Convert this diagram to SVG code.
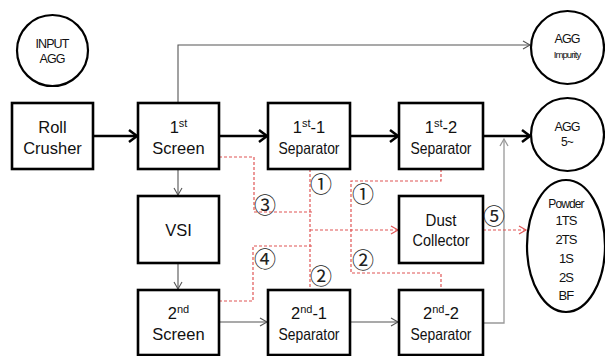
<svg xmlns="http://www.w3.org/2000/svg" width="605" height="356" viewBox="0 0 605 356">
<defs>
<style>
.box{fill:#fff;stroke:#000;stroke-width:2.6}
.circ{fill:#fff;stroke:#000;stroke-width:2.2}
.t{font-family:"Liberation Sans",Arial,sans-serif;font-size:16.5px;fill:#111;text-anchor:middle}
.sup{font-size:11px}
.s{font-family:"Liberation Sans",Arial,sans-serif;fill:#111;text-anchor:middle;letter-spacing:-0.9px}
.num{font-family:"Noto Sans CJK KR",sans-serif;font-size:22px;fill:#222;text-anchor:middle}
.thick{fill:none;stroke:#000;stroke-width:2.5;marker-end:url(#ak)}
.thin{fill:none;stroke:#555;stroke-width:1.1;marker-end:url(#ag)}
.thin2{fill:none;stroke:#999;stroke-width:1.3;marker-end:url(#ag2)}
.red{fill:none;stroke:#e05555;stroke-width:1.2;stroke-dasharray:3 2}
.reda{fill:none;stroke:#e05555;stroke-width:1.2;stroke-dasharray:3 2;marker-end:url(#ar)}
</style>
<marker id="ak" markerUnits="userSpaceOnUse" markerWidth="12" markerHeight="14" refX="9" refY="6" orient="auto" overflow="visible">
<path d="M1,0 L9,6 L1,12" fill="none" stroke="#000" stroke-width="2.5"/>
</marker>
<marker id="ag" markerUnits="userSpaceOnUse" markerWidth="10" markerHeight="10" refX="7" refY="4" orient="auto" overflow="visible">
<path d="M0,0 L7,4 L0,8" fill="none" stroke="#555" stroke-width="1.1"/>
</marker>
<marker id="ag2" markerUnits="userSpaceOnUse" markerWidth="10" markerHeight="10" refX="7" refY="4" orient="auto" overflow="visible">
<path d="M0,0 L7,4 L0,8" fill="none" stroke="#999" stroke-width="1.3"/>
</marker>
<marker id="ar" markerUnits="userSpaceOnUse" markerWidth="10" markerHeight="10" refX="7" refY="4" orient="auto" overflow="visible">
<path d="M0,0 L7,4 L0,8" fill="none" stroke="#e05555" stroke-width="1.2"/>
</marker>
</defs>
<rect width="605" height="356" fill="#fff"/>

<g id="connectors">
<path class="thick" d="M93,136 H137"/>
<path class="thick" d="M219,136 H267"/>
<path class="thick" d="M350,136 H398"/>
<path class="thick" d="M483,136 H530"/>
<path class="thin" d="M178,103 V45 H530"/>
<path class="thin" d="M178,169 V195"/>
<path class="thin" d="M178,263 V289"/>
<path class="thin" d="M219,322 H267"/>
<path class="thin" d="M350,322 H398"/>
<path class="thin2" d="M483,323 H504 V139"/>
<path class="red" d="M219,157 H254 V212 H312"/>
<path class="red" d="M310,169 V290"/>
<path class="reda" d="M310,230 H398"/>
<path class="red" d="M219,301 H253 V246 H312"/>
<path class="red" d="M441,169 V181 H351 V273 H441 V290"/>
<path class="reda" d="M483,230 H526"/>
</g>

<g id="labels">
<text class="num" x="321" y="191.5">①</text>
<text class="num" x="363" y="201.5">①</text>
<text class="num" x="265" y="212.5">③</text>
<text class="num" x="265" y="266.5">④</text>
<text class="num" x="321" y="283.5">②</text>
<text class="num" x="363" y="267.5">②</text>
<text class="num" x="494" y="223.5">⑤</text>
</g>

<g id="input-agg">
<circle class="circ" cx="52.5" cy="50.5" r="35.5"/>
<text class="s" x="52" y="48" font-size="12.5">INPUT</text>
<text class="s" x="52" y="63" font-size="12.5">AGG</text>
</g>

<g id="roll-crusher">
<rect class="box" x="12" y="103" width="81" height="66"/>
<text class="t" x="52.5" y="133">Roll</text>
<text class="t" x="52.5" y="154">Crusher</text>
</g>

<g id="screen1">
<rect class="box" x="138" y="103" width="81" height="66"/>
<text class="t" x="178.5" y="133">1<tspan class="sup" dy="-6">st</tspan></text>
<text class="t" x="178.5" y="154">Screen</text>
</g>

<g id="sep1-1">
<rect class="box" x="268" y="103" width="82" height="66"/>
<text class="t" x="309" y="133">1<tspan class="sup" dy="-6">st</tspan><tspan dy="6">-1</tspan></text>
<text class="t" x="309" y="154" textLength="61" lengthAdjust="spacingAndGlyphs">Separator</text>
</g>

<g id="sep1-2">
<rect class="box" x="399" y="103" width="84" height="66"/>
<text class="t" x="441" y="133">1<tspan class="sup" dy="-6">st</tspan><tspan dy="6">-2</tspan></text>
<text class="t" x="441" y="154" textLength="61" lengthAdjust="spacingAndGlyphs">Separator</text>
</g>

<g id="agg-impurity">
<circle class="circ" cx="567.5" cy="47.5" r="36.5"/>
<text class="s" x="567" y="43" font-size="12.5">AGG</text>
<text class="s" x="567" y="58" font-size="9.5" letter-spacing="-0.5">Impurity</text>
</g>

<g id="agg-5">
<circle class="circ" cx="567.5" cy="134.5" r="36.5"/>
<text class="s" x="567" y="131" font-size="12.5">AGG</text>
<text class="s" x="567" y="146" font-size="12">5~</text>
</g>

<g id="vsi">
<rect class="box" x="138" y="196" width="81" height="67"/>
<text class="t" x="178.5" y="236">VSI</text>
</g>

<g id="dust-collector">
<rect class="box" x="399" y="196" width="84" height="67"/>
<text class="t" x="441" y="226" textLength="31" lengthAdjust="spacingAndGlyphs">Dust</text>
<text class="t" x="441" y="246" textLength="57" lengthAdjust="spacingAndGlyphs">Collector</text>
</g>

<g id="powder">
<ellipse class="circ" cx="566" cy="246" rx="39" ry="66" stroke-width="2.5"/>
<text class="s" x="566" y="208" font-size="12">Powder</text>
<text class="s" x="566" y="225" font-size="13">1TS</text>
<text class="s" x="566" y="244" font-size="13">2TS</text>
<text class="s" x="566" y="263" font-size="13">1S</text>
<text class="s" x="566" y="282" font-size="13">2S</text>
<text class="s" x="566" y="300" font-size="13">BF</text>
</g>

<g id="screen2">
<rect class="box" x="138" y="290" width="81" height="65"/>
<text class="t" x="178.5" y="319">2<tspan class="sup" dy="-6">nd</tspan></text>
<text class="t" x="178.5" y="340">Screen</text>
</g>

<g id="sep2-1">
<rect class="box" x="268" y="290" width="82" height="65"/>
<text class="t" x="309" y="319">2<tspan class="sup" dy="-6">nd</tspan><tspan dy="6">-1</tspan></text>
<text class="t" x="309" y="340" textLength="61" lengthAdjust="spacingAndGlyphs">Separator</text>
</g>

<g id="sep2-2">
<rect class="box" x="399" y="290" width="84" height="65"/>
<text class="t" x="441" y="319">2<tspan class="sup" dy="-6">nd</tspan><tspan dy="6">-2</tspan></text>
<text class="t" x="441" y="340" textLength="61" lengthAdjust="spacingAndGlyphs">Separator</text>
</g>
</svg>
